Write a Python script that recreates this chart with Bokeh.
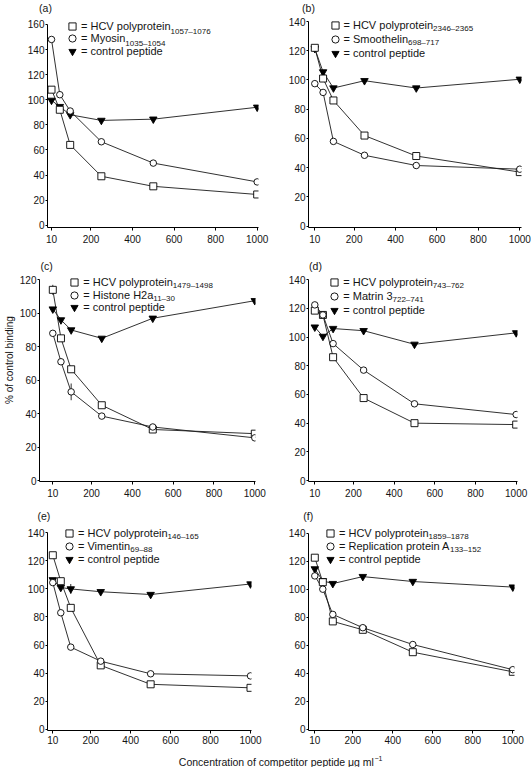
import math
from bokeh.plotting import figure
from bokeh.models import Range1d, FixedTicker, Legend, LegendItem
from bokeh.core.properties import value
from bokeh.layouts import column, row
from bokeh.embed import file_html
from bokeh.resources import INLINE

# ---------------- data ----------------
conc = [10, 50, 100, 250, 500, 1000]
x_ticks = [10, 200, 400, 600, 800, 1000]

a_hcv = [108, 92, 64, 39, 31, 24.5]
a_self = [148, 104, 91, 66.5, 49.5, 34.5]
a_ctrl = [99.5, 94.5, 88, 83.5, 84.5, 94]

b_hcv = [122, 101, 86, 62, 48, 37]
b_self = [97.5, 91.5, 58, 48.5, 41.5, 39]
b_ctrl = [121.5, 105.5, 94.5, 99.5, 94.5, 100.5]

c_hcv = [114, 85, 66.5, 45, 30.5, 28]
c_self = [88, 71, 53, 38.5, 32, 25.5]
c_ctrl = [102.5, 96, 90, 85, 97, 107.5]

d_hcv = [118.5, 115.5, 86, 57.5, 40, 39]
d_self = [122.5, 115.5, 95.5, 77, 53.5, 46]
d_ctrl = [107, 100.5, 106, 104.5, 95, 103]

e_hcv = [124, 105.5, 86.5, 45.5, 32, 29.5]
e_self = [104.5, 83, 58.5, 48.5, 39.5, 38]
e_ctrl = [106.5, 101, 100, 98, 96, 103.5]

f_hcv = [122.5, 105, 77, 71, 55, 41]
f_self = [109.5, 100, 82, 72.5, 60.5, 42.5]
f_ctrl = [114.5, 106, 104, 109, 105.5, 101.5]

# visible error bars (half-widths, % units); zero = none drawn
c_hcv_err = [3, 0, 0, 0, 0, 0]
c_self_err = [0, 0, 5, 0, 0, 0]
e_ctrl_err = [0, 0, 3.5, 0, 0, 0]

panel_letters = ["(a)", "(b)", "(c)", "(d)", "(e)", "(f)"]
hcv_names = ["HCV polyprotein"] * 6
hcv_subs = ["1057\u20131076", "2346\u20132365", "1479\u20131498", "743\u2013762", "146\u2013165", "1859\u20131878"]
self_names = ["Myosin", "Smoothelin", "Histone H2a", "Matrin 3", "Vimentin", "Replication protein A"]
self_subs = ["1035\u20131054", "698\u2013717", "11\u201330", "722\u2013741", "69\u201388", "133\u2013152"]
ctrl_name = "control peptide"
y_tops = [160, 140, 120, 140, 140, 140]

hcv_all = [a_hcv, b_hcv, c_hcv, d_hcv, e_hcv, f_hcv]
self_all = [a_self, b_self, c_self, d_self, e_self, f_self]
ctrl_all = [a_ctrl, b_ctrl, c_ctrl, d_ctrl, e_ctrl, f_ctrl]
errors = {(2, 0): c_hcv_err, (2, 1): c_self_err, (4, 2): e_ctrl_err}

x_title = "Concentration of competitor peptide \u03bcg ml"
x_title_sup = "\u22121"
y_title = "% of control binding"

# ---------------- layout (window pixels) ----------------
FONT = "Liberation Sans"
TXT = "#141414"
TOTAL_W = 531

# fig box (x0, y0, w, h); frame (L, R, B); x calibration (px of 10, px of 1000);
# y calibration (px of 0, px of top); legend (marker x, first row y, pitch)
SPECS = [
    dict(box=(0, 14, 281, 242), frame=(47, 258, 229), xcal=(51.0, 256.7), ycal=(226.7, 24.0),
         leg=(72, 28, 12.3)),
    dict(box=(281, 14, 250, 242), frame=(308, 521, 227), xcal=(314.3, 519.3), ycal=(225.7, 21.0),
         leg=(334.5, 24.5, 14)),
    dict(box=(16, 273, 265, 233), frame=(39, 255, 481), xcal=(52.3, 254.3), ycal=(480.0, 279.3),
         leg=(74.3, 281.7, 12.8)),
    dict(box=(281, 273, 250, 233), frame=(308, 517, 481), xcal=(314.3, 515.7), ycal=(480.0, 279.3),
         leg=(334.3, 282.3, 13.8)),
    dict(box=(0, 525, 281, 227), frame=(47, 251, 730), xcal=(52.3, 250.0), ycal=(728.7, 532.3),
         leg=(69, 532.7, 13.2)),
    dict(box=(281, 525, 250, 227), frame=(308, 514, 730), xcal=(314.3, 512.3), ycal=(728.7, 532.7),
         leg=(330, 532.7, 13.2)),
]
LETTER_POS = [(45, 7), (308, 7), (46, 265), (315, 265), (43.3, 515.7), (307.7, 515.5)]
STRIPS = [(0, 14), (256, 273), (506, 525)]
XL_TOP = 752

ARIAL = {' ': 278, '=': 584, 'A': 667, 'C': 722, 'H': 722, 'M': 833, 'R': 722, 'S': 667,
         'V': 667, 'a': 556, 'b': 556, 'c': 500, 'd': 556, 'e': 556, 'f': 278, 'g': 556,
         'h': 556, 'i': 222, 'l': 222, 'm': 833, 'n': 556, 'o': 556, 'p': 556, 'r': 333,
         's': 500, 't': 278, 'y': 500, '\u2013': 556, '\u03bc': 576}


def text_w(s, size):
    return sum(ARIAL.get(ch, 556) for ch in s) * size / 1000.0


def lin(p, p1, v1, p2, v2):
    return v1 + (p - p1) * (v2 - v1) / (p2 - p1)


def bare_fig(w, h):
    f = figure(width=w, height=h, x_range=Range1d(0, w), y_range=Range1d(0, h),
               min_border=0, output_backend="svg", toolbar_location=None,
               x_axis_type=None, y_axis_type=None)
    f.outline_line_color = None
    f.grid.visible = False
    return f


def make_panel(k):
    s = SPECS[k]
    X0, Y0, W, H = s["box"]
    L, R, B = s["frame"]
    T = Y0
    px10, px1000 = s["xcal"]
    py0, pytop = s["ycal"]
    top = y_tops[k]

    def dx(px):
        return lin(px, px10, 10, px1000, 1000)

    def dy(py):
        return lin(py, py0, 0, pytop, top)

    y0 = dy(B)
    p = figure(width=W, height=H, x_range=Range1d(dx(L), dx(R)), y_range=Range1d(y0, dy(T)),
               output_backend="svg", toolbar_location=None,
               min_border_left=L - X0, min_border_right=X0 + W - R,
               min_border_top=0, min_border_bottom=Y0 + H - B)
    p.outline_line_color = None
    p.grid.visible = False
    p.background_fill_color = "white"
    p.border_fill_color = "white"

    for ax in (p.xaxis[0], p.yaxis[0]):
        ax.axis_line_color = "black"
        ax.axis_line_width = 1
        ax.major_tick_line_color = "black"
        ax.major_tick_in = 0
        ax.minor_tick_line_color = None
        ax.major_label_text_font = FONT
        ax.major_label_text_font_size = "10px"
        ax.major_label_text_color = TXT
    p.xaxis.ticker = FixedTicker(ticks=x_ticks)
    p.yaxis.ticker = FixedTicker(ticks=list(range(0, top + 1, 20)))
    p.yaxis.bounds = (y0, top)
    p.xaxis.major_tick_out = 3
    p.yaxis.major_tick_out = 2
    p.xaxis.major_label_standoff = 4 if k < 4 else 2
    p.yaxis.major_label_standoff = 1

    lw = 0.9
    series = (hcv_all[k], self_all[k], ctrl_all[k])
    for ys in series:
        p.line(conc, ys, line_color="#1a1a1a", line_width=lw)
    for (pk, si), err in errors.items():
        if pk != k:
            continue
        xs = [c for c, e in zip(conc, err) if e > 0]
        lo = [v - e for v, e in zip(series[si], err) if e > 0]
        hi = [v + e for v, e in zip(series[si], err) if e > 0]
        p.segment(x0=xs, y0=lo, x1=xs, y1=hi, line_color="#1a1a1a", line_width=lw)
    r_ctrl = p.scatter(conc, ctrl_all[k], marker="inverted_triangle", size=7.5,
                       fill_color="black", line_color="black", line_width=lw)
    r_hcv = p.scatter(conc, hcv_all[k], marker="square", size=7,
                      fill_color="white", line_color="black", line_width=lw)
    r_self = p.scatter(conc, self_all[k], marker="circle", size=6.5,
                       fill_color="white", line_color="black", line_width=lw)

    # legend: one single-row legend per entry so the row pitch can match
    mx, my, pitch = s["leg"]
    gh = 18
    entries = [("= " + hcv_names[k], r_hcv), ("= " + self_names[k], r_self),
               ("= " + ctrl_name, r_ctrl)]
    for j, (lab, rend) in enumerate(entries):
        cy = my + j * pitch
        leg = Legend(items=[LegendItem(label=value(lab), renderers=[rend])],
                     location=(mx - gh / 2 - L, B - (cy + gh / 2)),
                     glyph_width=gh, glyph_height=gh, label_standoff=0, spacing=0,
                     padding=0, margin=0, border_line_color=None, background_fill_alpha=0,
                     label_text_font=FONT, label_text_font_size="11px", label_text_color=TXT,
                     label_height=12, label_width=10)
        p.add_layout(leg)

    # subscripts
    start = mx + gh / 2
    sub_x, sub_y, sub_t = [], [], []
    for j, (nm, sub) in enumerate(((hcv_names[k], hcv_subs[k]), (self_names[k], self_subs[k]))):
        sub_x.append(dx(start + text_w("= " + nm, 11) - 0.5))
        sub_y.append(dy(my + j * pitch + 3))
        sub_t.append(sub)
    p.text(x=sub_x, y=sub_y, text=sub_t, text_font=value(FONT), text_font_size="8px",
           text_color=TXT, text_align="left", text_baseline="middle")
    return p


panels = [make_panel(k) for k in range(6)]

# strips carrying the panel letters
strips = []
for si, (ya, yb) in enumerate(STRIPS):
    st = bare_fig(TOTAL_W, yb - ya)
    xs = [LETTER_POS[2 * si][0], LETTER_POS[2 * si + 1][0]]
    ys = [yb - LETTER_POS[2 * si][1], yb - LETTER_POS[2 * si + 1][1]]
    st.text(x=xs, y=ys, text=panel_letters[2 * si:2 * si + 2], text_font=value(FONT),
            text_font_size="10.5px", text_color=TXT, text_align="center",
            text_baseline="middle")
    strips.append(st)

# y title column (beside middle row)
yl = bare_fig(16, 233)
yl.text(x=[9], y=[506 - 370], text=[y_title], angle=math.pi / 2, text_font=value(FONT),
        text_font_size="10px", text_color=TXT, text_align="center", text_baseline="middle")

# x title strip
xl_h = 767 - XL_TOP
xl = bare_fig(TOTAL_W, xl_h)
x0t = 178.3
base = 767 - 761.5
xl.text(x=[x0t], y=[base], text=[x_title], text_font=value(FONT), text_font_size="10.5px",
        text_color=TXT, text_align="left", text_baseline="alphabetic")
xl.text(x=[x0t + text_w(x_title, 10.5) + 0.5], y=[base + 4], text=[x_title_sup],
        text_font=value(FONT), text_font_size="7px", text_color=TXT,
        text_align="left", text_baseline="alphabetic")

layout = column(strips[0], row(panels[0], panels[1]), strips[1],
                row(yl, panels[2], panels[3]), strips[2],
                row(panels[4], panels[5]), xl)

open("out.html", "w").write(file_html(layout, INLINE))
